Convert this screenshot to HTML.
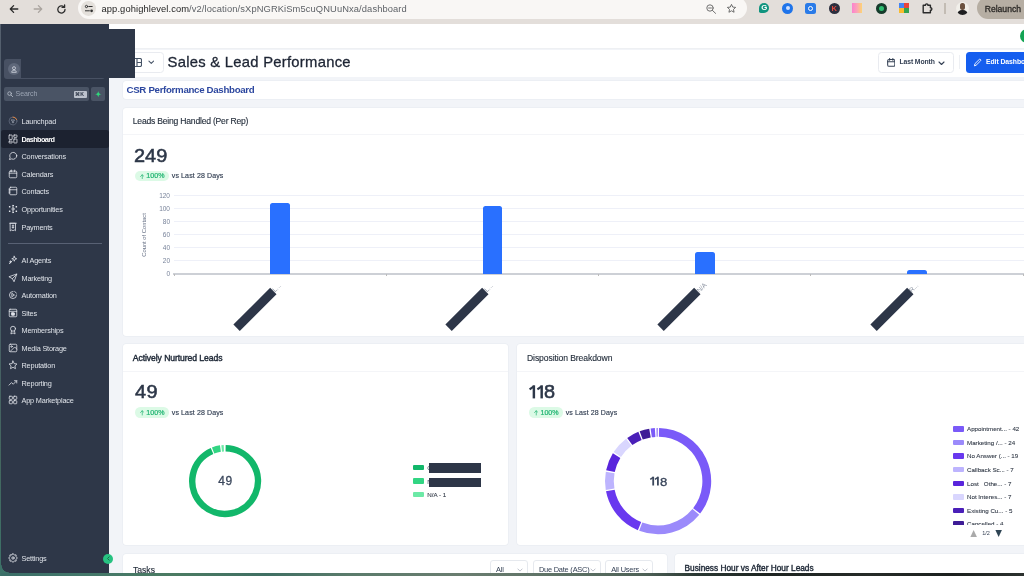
<!DOCTYPE html>
<html>
<head>
<meta charset="utf-8">
<title>Dashboard</title>
<style>
*{box-sizing:border-box;margin:0;padding:0}
html,body{width:1024px;height:576px;overflow:hidden}
body{position:relative;background:#f2f4f8;font-family:"Liberation Sans",sans-serif;color:#2d3748}
.abs{position:absolute}
.t{position:absolute;white-space:nowrap;line-height:1}
/* browser chrome */
#chrome{left:0;top:0;width:1024px;height:23.8px;background:#e3deda}
#pill{left:77.9px;top:-2.6px;width:669.4px;height:22px;border-radius:11px;background:#f9f7f5}
#sitebtn{left:81.3px;top:.95px;width:14.8px;height:14.8px;border-radius:50%;background:#e4e0db}
/* sidebar */
#side{left:0;top:23.8px;width:109px;height:549.2px;background:#2e3748}
.nav{position:absolute;left:21.5px;white-space:nowrap;line-height:1;font-size:7.3px;color:#dfe3e9;letter-spacing:-.17px}
.ico{position:absolute;left:7.6px;width:10px;height:10px;margin-top:.5px}
.ico svg{width:10px;height:10px;display:block;fill:none;stroke:#e3e6ec;stroke-width:1.9;stroke-linecap:round;stroke-linejoin:round}
/* main */
.card{position:absolute;background:#fff;border-radius:3px;box-shadow:0 0 0 .5px #e6e9ef}
.hsep{position:absolute;left:0;right:0;height:1px;background:#f4f5f8}
.ct{position:absolute;white-space:nowrap;line-height:1;font-size:8.6px;color:#1f2937;letter-spacing:-.22px;-webkit-text-stroke:.12px #1f2937}
.big{position:absolute;white-space:nowrap;line-height:1;font-size:18.5px;letter-spacing:.5px;color:#2d3748;-webkit-text-stroke:.55px #2d3748;transform:scaleX(1.075);transform-origin:0 0}
.badge{position:absolute;height:10.4px;border-radius:5.2px;background:#dcfae6;color:#22b573;font-size:7.1px;font-weight:normal;-webkit-text-stroke:.22px #22b573;line-height:10.4px;display:flex;align-items:center;justify-content:center;white-space:nowrap;padding-top:.7px}
.vs{position:absolute;white-space:nowrap;line-height:1;font-size:7px;color:#344054;letter-spacing:.12px;-webkit-text-stroke:.15px #344054}
.grid{position:absolute;left:174px;right:0;height:1px;background:#eef0f8}
.yl{position:absolute;width:20px;text-align:right;font-size:6.5px;line-height:1;color:#78839a;left:150px}
.bar{position:absolute;width:19.8px;background:#2970ff;border-radius:2.5px 2.5px 0 0}
.red{position:absolute;width:51.7px;height:9px;background:#2d3648;transform:rotate(-45deg)}
.tick{position:absolute;width:1px;height:2px;top:274px;background:#bbb}
.lg{position:absolute;width:11.1px;height:5.5px;border-radius:1px}
.lt{position:absolute;white-space:nowrap;line-height:1;font-size:6.2px;color:#333b48;-webkit-text-stroke:.1px #333b48}
</style>
</head>
<body>
<div id="wrap" style="position:absolute;left:0;top:0;width:1024px;height:576px;overflow:hidden;will-change:transform">

<!-- page bg (window) -->
<div class="abs" id="win" style="left:0;top:24px;width:1024px;height:549px;background:#f2f4f8"></div>

<!-- top white bar -->
<div class="abs" style="left:109px;top:24px;width:915px;height:24.5px;background:#fff"></div>
<div class="abs" style="left:109px;top:48px;width:915px;height:1.300px;background:#eef0f3"></div>
<div class="abs" style="left:109px;top:49.5px;width:915px;height:27px;background:#fff"></div>
<div class="abs" style="left:1020.200px;top:29.200px;width:14px;height:14px;border-radius:50%;background:#13a454"></div>

<!-- main content -->
<div class="abs" style="left:120px;top:52.100px;width:43.750px;height:20.500px;border:1px solid #e9ebf0;border-radius:3.500px;background:#fff"></div>
<svg class="abs" style="left:132px;top:57.900px" width="10" height="9" viewBox="0 0 10 9" fill="none" stroke="#475467" stroke-width="1.150"><rect x=".5" y=".5" width="9" height="8" rx="1.500"/><path d="M5 .5v8M5 4.500h4.500"/></svg>
<svg class="abs" style="left:147.500px;top:60px" width="6.500" height="5" viewBox="0 0 7 5" fill="none" stroke="#475467" stroke-width="1.100" stroke-linecap="round" stroke-linejoin="round"><path d="M1 1l2.500 2.500L6 1"/></svg>
<div class="t" id="title" style="left:167.500px;top:55px;font-size:14.8px;color:#1d2433;letter-spacing:.27px;-webkit-text-stroke:.3px #1d2433">Sales &amp; Lead Performance</div>
<div class="abs" style="left:878px;top:52.100px;width:75.500px;height:20.500px;border:1px solid #e9ebf0;border-radius:3.500px;background:#fff"></div>
<svg class="abs" style="left:886.500px;top:57.500px" width="8.500" height="9" viewBox="0 0 9 9.500" fill="none" stroke="#344054" stroke-width="1.100" stroke-linecap="round"><rect x=".7" y="1.500" width="7.600" height="7.300" rx="1.500"/><path d="M.7 4h7.600M2.800 .5v1.800M6.200 .5v1.800"/></svg>
<div class="t" id="lm" style="left:899.500px;top:59.400px;font-size:6.8px;font-weight:bold;color:#344054;letter-spacing:-.1px">Last Month</div>
<svg class="abs" style="left:937.500px;top:60.500px" width="7" height="5" viewBox="0 0 7 5" fill="none" stroke="#344054" stroke-width="1.100" stroke-linecap="round" stroke-linejoin="round"><path d="M1 1l2.500 2.500L6 1"/></svg>
<div class="abs" style="left:959px;top:55px;width:1px;height:14px;background:#eef0f4"></div>
<div class="abs" style="left:965.500px;top:52.100px;width:70px;height:20.500px;border-radius:3.500px;background:#155eef"></div>
<svg class="abs" style="left:972.500px;top:58px" width="9" height="9" viewBox="0 0 24 24" fill="none" stroke="#fff" stroke-width="2.400" stroke-linecap="round" stroke-linejoin="round"><path d="M4 20l1.200-4.800L16.500 4a2.500 2.500 0 0 1 3.600 3.600L8.800 18.800z"/></svg>
<div class="t" style="left:986px;top:59.400px;font-size:6.8px;font-weight:bold;color:#fff;letter-spacing:-.05px">Edit Dashboard</div>
<div class="card" style="left:123px;top:81.300px;width:920px;height:18px"></div>
<div class="t" id="csr" style="left:126.500px;top:84.700px;font-size:9.700px;font-weight:bold;color:#2c479f;letter-spacing:-.31px">CSR Performance Dashboard</div>
<div class="card" style="left:123px;top:107.500px;width:920px;height:228px"><div class="hsep" style="top:26.700px"></div></div>
<div class="ct" id="c1" style="left:132.800px;top:117px">Leads Being Handled (Per Rep)</div>
<div class="big" id="b1" style="left:134.300px;top:146.500px;letter-spacing:.05px">249</div>
<div class="badge" style="left:135px;top:170.800px;width:34.200px"><svg width="4.500" height="5.500" viewBox="0 0 9 11" fill="none" stroke="#22b573" stroke-width="1.400" stroke-linecap="round" stroke-linejoin="round" style="margin-right:2.200px"><path d="M4.500 10V1.500M1 5l3.500-3.500L8 5"/></svg>100%</div>
<div class="vs" id="v1" style="left:171.800px;top:172.100px">vs Last 28 Days</div>
<div class="yl" style="top:271.10px">0</div>
<div class="grid" style="top:259.87px"></div><div class="yl" style="top:258.07px">20</div>
<div class="grid" style="top:246.84px"></div><div class="yl" style="top:245.04px">40</div>
<div class="grid" style="top:233.81px"></div><div class="yl" style="top:232.01px">60</div>
<div class="grid" style="top:220.78px"></div><div class="yl" style="top:218.98px">80</div>
<div class="grid" style="top:207.75px"></div><div class="yl" style="top:205.95px">100</div>
<div class="grid" style="top:194.72px"></div><div class="yl" style="top:192.92px">120</div>
<div class="abs" style="left:173px;top:273.400px;width:860px;height:1.600px;background:#cdd0d6"></div>
<div class="tick" style="left:173.5px"></div><div class="tick" style="left:385.8px"></div><div class="tick" style="left:598.1px"></div><div class="tick" style="left:810.4px"></div><div class="tick" style="left:1022.7px"></div>
<div class="t" style="left:144.500px;top:234.500px;font-size:5.800px;color:#667085;transform:translate(-50%,-50%) rotate(-90deg)">Count of Contact</div>
<div class="bar" style="left:270.30px;top:203.04px;height:70.66px"></div><div class="red" style="left:228.85px;top:305.00px"></div>
<div class="bar" style="left:482.60px;top:206.10px;height:67.60px"></div><div class="red" style="left:441.15px;top:305.00px"></div>
<div class="bar" style="left:694.90px;top:252.29px;height:21.41px"></div><div class="red" style="left:653.45px;top:305.00px"></div>
<div class="bar" style="left:907.30px;top:270.14px;height:3.56px"></div><div class="red" style="left:865.85px;top:305.00px"></div>
<div class="t" style="left:277.1px;top:288.400px;font-size:6.500px;color:#8a92a0;transform:translate(-50%,-50%) rotate(-45deg)">L...</div><div class="t" style="left:489.4px;top:288.400px;font-size:6.500px;color:#8a92a0;transform:translate(-50%,-50%) rotate(-45deg)">L...</div><div class="t" style="left:701.7px;top:288.400px;font-size:6.500px;color:#8a92a0;transform:translate(-50%,-50%) rotate(-45deg)">N/A</div><div class="t" style="left:914.1px;top:288.400px;font-size:6.500px;color:#8a92a0;transform:translate(-50%,-50%) rotate(-45deg)">R...</div>

<div class="card" style="left:123.200px;top:343.800px;width:385.200px;height:201.400px"><div class="hsep" style="top:27.500px"></div></div>
<div class="ct" id="c2" style="left:132.800px;top:353.800px;-webkit-text-stroke:.42px #1f2937;letter-spacing:-.07px">Actively Nurtured Leads</div>
<div class="big" id="b2" style="left:134.800px;top:382.500px">49</div>
<div class="badge" style="left:135px;top:407.300px;width:34.200px"><svg width="4.500" height="5.500" viewBox="0 0 9 11" fill="none" stroke="#22b573" stroke-width="1.400" stroke-linecap="round" stroke-linejoin="round" style="margin-right:2.200px"><path d="M4.500 10V1.500M1 5l3.500-3.500L8 5"/></svg>100%</div>
<div class="vs" style="left:171.800px;top:408.900px">vs Last 28 Days</div>
<svg class="abs" style="left:187.30px;top:442.70px" width="76.20" height="76.20" viewBox="-38.10 -38.10 76.20 76.20" fill="none"><path d="M0.52 -32.85A32.85 32.85 0 1 1 -13.05 -30.15" stroke="#12b76a" stroke-width="6.50"/><path d="M-11.99 -30.59A32.85 32.85 0 0 1 -4.69 -32.51" stroke="#32d583" stroke-width="6.50"/><path d="M-3.43 -32.67A32.85 32.85 0 0 1 -1.26 -32.83" stroke="#6ce9a6" stroke-width="6.50"/></svg>
<div class="t" style="left:225.400px;top:480.800px;font-size:12px;color:#3b475c;-webkit-text-stroke:.3px #3b475c;letter-spacing:.5px;transform:translate(-50%,-50%)">49</div>
<div class="lg" style="left:413px;top:464.75px;background:#12b76a;width:11px;height:5.500px"></div><div class="lg" style="left:413px;top:478.45px;background:#32d583;width:11px;height:5.500px"></div><div class="lg" style="left:413px;top:491.75px;background:#6ce9a6;width:11px;height:5.500px"></div><div class="t" style="left:427.300px;top:464.800px;font-size:6px;color:#344054">C</div><div class="t" style="left:427.300px;top:478.500px;font-size:6px;color:#344054">N</div>
<div class="abs" style="left:429px;top:463px;width:52px;height:9.700px;background:#2d3648"></div>
<div class="abs" style="left:429px;top:477.500px;width:52px;height:9.500px;background:#2d3648"></div>
<div class="lt" style="left:427.300px;top:491.700px">N/A - 1</div>
<div class="card" style="left:517px;top:343.800px;width:520px;height:201.200px"><div class="hsep" style="top:27.500px"></div></div>
<div class="ct" id="c3" style="left:527px;top:353.800px;letter-spacing:-.1px">Disposition Breakdown</div>
<svg class="abs" style="left:0;top:0" width="1024" height="576" viewBox="0 0 1024 576" id="ones"><rect x="532.65" y="385.3" width="2.45" height="13.1" fill="#2d3748"/><path d="M529.60 389.45L533.85 386.35" stroke="#2d3748" stroke-width="2.1" fill="none"/><rect x="540.45" y="385.3" width="2.45" height="13.1" fill="#2d3748"/><path d="M537.40 389.45L541.65 386.35" stroke="#2d3748" stroke-width="2.1" fill="none"/></svg><div class="big" id="b3" style="left:543.900px;top:382.500px">8</div>
<div class="badge" style="left:529.100px;top:407.300px;width:34.200px"><svg width="4.500" height="5.500" viewBox="0 0 9 11" fill="none" stroke="#22b573" stroke-width="1.400" stroke-linecap="round" stroke-linejoin="round" style="margin-right:2.200px"><path d="M4.500 10V1.500M1 5l3.500-3.500L8 5"/></svg>100%</div>
<div class="vs" style="left:565.700px;top:408.900px">vs Last 28 Days</div>
<svg class="abs" style="left:603.40px;top:425.60px" width="110.20" height="110.20" viewBox="-55.10 -55.10 110.20 110.20" fill="none"><path d="M0.89 -48.69A48.70 48.70 0 0 1 38.54 29.77" stroke="#7a5af8" stroke-width="8.80"/><path d="M37.75 30.77A48.70 48.70 0 0 1 -17.38 45.49" stroke="#9b8afb" stroke-width="8.80"/><path d="M-18.56 45.02A48.70 48.70 0 0 1 -47.78 9.40" stroke="#6938ef" stroke-width="8.80"/><path d="M-48.01 8.15A48.70 48.70 0 0 1 -47.93 -8.65" stroke="#bdb4fe" stroke-width="8.80"/><path d="M-47.68 -9.90A48.70 48.70 0 0 1 -41.49 -25.51" stroke="#5925dc" stroke-width="8.80"/><path d="M-40.80 -26.58A48.70 48.70 0 0 1 -29.35 -38.86" stroke="#d9d6fe" stroke-width="8.80"/><path d="M-28.32 -39.62A48.70 48.70 0 0 1 -18.09 -45.22" stroke="#4a1fb8" stroke-width="8.80"/><path d="M-16.90 -45.67A48.70 48.70 0 0 1 -8.12 -48.02" stroke="#3e1c96" stroke-width="8.80"/><path d="M-6.86 -48.21A48.70 48.70 0 0 1 -2.97 -48.61" stroke="#7a5af8" stroke-width="8.80"/><path d="M-1.96 -48.66A48.70 48.70 0 0 1 -1.42 -48.68" stroke="#9b8afb" stroke-width="8.80"/><path d="M-0.66 -48.70A48.70 48.70 0 0 1 -0.13 -48.70" stroke="#6938ef" stroke-width="8.80"/></svg>
<svg class="abs" style="left:0;top:0" width="1024" height="576" viewBox="0 0 1024 576"><rect x="652.30" y="476.7" width="1.8" height="8.8" fill="#3b475c"/><path d="M650.25 479.35L653.20 477.4" stroke="#3b475c" stroke-width="1.5" fill="none"/><rect x="657.00" y="476.7" width="1.8" height="8.8" fill="#3b475c"/><path d="M654.95 479.35L657.90 477.4" stroke="#3b475c" stroke-width="1.5" fill="none"/></svg><div class="t" id="d8" style="left:659.700px;top:475.800px;font-size:11.700px;color:#3b475c;-webkit-text-stroke:.3px #3b475c;transform:scaleX(1.13);transform-origin:0 0">8</div>
<div class="abs" style="left:948px;top:422px;width:76px;height:103.100px;overflow:hidden">
<div class="lg" style="left:4.800px;top:4.30px;background:#7a5af8"></div><div class="lt" style="left:19px;top:4.30px;white-space:pre">Appointment... - 42</div>
<div class="lg" style="left:4.800px;top:17.85px;background:#9b8afb"></div><div class="lt" style="left:19px;top:17.85px;white-space:pre">Marketing /... - 24</div>
<div class="lg" style="left:4.800px;top:31.40px;background:#6938ef"></div><div class="lt" style="left:19px;top:31.40px;white-space:pre">No Answer (... - 19</div>
<div class="lg" style="left:4.800px;top:44.95px;background:#bdb4fe"></div><div class="lt" style="left:19px;top:44.95px;white-space:pre">Callback Sc... - 7</div>
<div class="lg" style="left:4.800px;top:58.50px;background:#5925dc"></div><div class="lt" style="left:19px;top:58.50px;white-space:pre">Lost   Othe... - 7</div>
<div class="lg" style="left:4.800px;top:72.05px;background:#d9d6fe"></div><div class="lt" style="left:19px;top:72.05px;white-space:pre">Not Interes... - 7</div>
<div class="lg" style="left:4.800px;top:85.60px;background:#4a1fb8"></div><div class="lt" style="left:19px;top:85.60px;white-space:pre">Existing Cu... - 5</div>
<div class="lg" style="left:4.800px;top:99.15px;background:#3e1c96"></div><div class="lt" style="left:19px;top:99.15px;white-space:pre">Cancelled - 4</div>
</div>
<svg class="abs" style="left:969.700px;top:530px" width="7.300" height="7" viewBox="0 0 7 7.500"><path d="M3.500 0L7 7.500H0z" fill="#aaa"/></svg><div class="t" style="left:986px;top:533.500px;font-size:5.500px;color:#344054;transform:translate(-50%,-50%)">1/2</div><svg class="abs" style="left:995.100px;top:530px" width="7.300" height="7" viewBox="0 0 7 7.500"><path d="M0 0H7L3.500 7.500z" fill="#2f4554"/></svg>
<div class="card" style="left:123.200px;top:554px;width:543.800px;height:30px"></div>
<div class="t" style="left:133px;top:565.900px;font-size:8.600px;color:#1f2937;-webkit-text-stroke:.15px #1f2937">Tasks</div>
<div class="abs" style="left:490.2px;top:560px;width:38.2px;height:20px;border:1px solid #e6e9ee;border-radius:3px;background:#fff"></div><div class="t" style="left:496.0px;top:566.200px;font-size:7.400px;letter-spacing:-.2px;color:#344054">All</div><svg class="abs" style="left:517.4px;top:568.200px" width="6" height="4.500" viewBox="0 0 7 5" fill="none" stroke="#aab0bb" stroke-width=".9" stroke-linecap="round" stroke-linejoin="round"><path d="M1 1l2.500 2.500L6 1"/></svg>
<div class="abs" style="left:533.1px;top:560px;width:68.4px;height:20px;border:1px solid #e6e9ee;border-radius:3px;background:#fff"></div><div class="t" style="left:538.9px;top:566.200px;font-size:7.400px;letter-spacing:-.2px;color:#344054">Due Date (ASC)</div><svg class="abs" style="left:589.9px;top:568.200px" width="6" height="4.500" viewBox="0 0 7 5" fill="none" stroke="#aab0bb" stroke-width=".9" stroke-linecap="round" stroke-linejoin="round"><path d="M1 1l2.500 2.500L6 1"/></svg>
<div class="abs" style="left:605.4px;top:560px;width:47.5px;height:20px;border:1px solid #e6e9ee;border-radius:3px;background:#fff"></div><div class="t" style="left:611.2px;top:566.200px;font-size:7.400px;letter-spacing:-.2px;color:#344054">All Users</div><svg class="abs" style="left:641.6px;top:568.200px" width="6" height="4.500" viewBox="0 0 7 5" fill="none" stroke="#aab0bb" stroke-width=".9" stroke-linecap="round" stroke-linejoin="round"><path d="M1 1l2.500 2.500L6 1"/></svg>
<div class="card" style="left:675px;top:554px;width:360px;height:30px"></div>
<div class="t" style="left:684.500px;top:563.500px;font-size:8.300px;color:#1f2937;-webkit-text-stroke:.4px #1f2937">Business Hour vs After Hour Leads</div>

<!-- browser chrome -->
<div class="abs" id="chrome"></div>
<div class="abs" id="pill"></div>
<div class="abs" id="sitebtn"></div>


<!-- chrome nav icons -->
<svg class="abs" style="left:9px;top:4px" width="10" height="10" viewBox="0 0 10 10" fill="none" stroke="#2b2b2b" stroke-width="1.3" stroke-linecap="round" stroke-linejoin="round"><path d="M8.8 5H1.5M4.6 1.6L1.3 5l3.3 3.4"/></svg>
<svg class="abs" style="left:33px;top:4px" width="10" height="10" viewBox="0 0 10 10" fill="none" stroke="#aaa49f" stroke-width="1.3" stroke-linecap="round" stroke-linejoin="round"><path d="M1.2 5h7.3M5.4 1.6L8.7 5 5.4 8.4"/></svg>
<svg class="abs" style="left:56px;top:3.5px" width="11" height="11" viewBox="0 0 11 11" fill="none" stroke="#2b2b2b" stroke-width="1.3" stroke-linecap="round" stroke-linejoin="round"><path d="M9 5.5A3.6 3.6 0 1 1 7.9 2.9"/><path d="M8.6 0.9v2.5H6.1" /></svg>
<!-- tune icon -->
<svg class="abs" style="left:84px;top:4px" width="10" height="10" viewBox="0 0 10 10" fill="none" stroke="#333" stroke-width="1" stroke-linecap="round"><circle cx="2.500" cy="2.500" r="1.150"/><path d="M4.800 2.500H8.200"/><circle cx="7.600" cy="6.800" r="1.350" fill="#333" stroke="none"/><path d="M1.400 6.800H5.400"/></svg>
<div class="t" id="url" style="left:101.5px;top:4.700px;font-size:9.35px;color:#1f1f1f;letter-spacing:.1px">app.gohighlevel.com<span style="color:#5f6368">/v2/location/sXpNGRKiSm5cuQNUuNxa/dashboard</span></div>
<!-- zoom + star -->
<svg class="abs" style="left:705.500px;top:3.800px" width="10.500" height="10.500" viewBox="0 0 10.500 10.500" fill="none" stroke="#6a6a6a" stroke-width=".95" stroke-linecap="round"><circle cx="4" cy="4" r="3.200"/><path d="M6.400 6.400L9.600 9.400M2.600 4h2.800"/></svg>
<svg class="abs" style="left:725.5px;top:3px" width="11" height="11" viewBox="0 0 24 24" fill="none" stroke="#5a5a5a" stroke-width="1.900" stroke-linejoin="round"><path d="M12 3l2.7 5.9 6.3.7-4.7 4.3 1.3 6.3L12 17l-5.6 3.2 1.3-6.3L3 9.6l6.3-.7z"/></svg>
<!-- extension icons -->
<div class="abs" style="left:759px;top:2.70px;width:10.300px;height:10.300px;border-radius:50% 50% 50% 18%;background:#10947f"></div>
<div class="t" style="left:761.200px;top:4.20px;font-size:7.800px;font-weight:bold;color:#fff">G</div>
<div class="abs" style="left:782px;top:2.70px;width:11px;height:11px;border-radius:50%;background:#1f74ea"></div>
<div class="abs" style="left:785.5px;top:6.20px;width:4px;height:4px;border-radius:50%;background:#cfe0ff"></div>
<div class="abs" style="left:805px;top:2.70px;width:11px;height:11px;border-radius:2.5px;background:#2a7be8"></div>
<div class="abs" style="left:808px;top:5.70px;width:5px;height:5px;border-radius:50%;border:1.3px solid #fff"></div>
<div class="abs" style="left:828.5px;top:2.70px;width:11px;height:11px;border-radius:50%;background:#2c2f3e"></div>
<div class="t" style="left:831.6px;top:4.50px;font-size:7.5px;font-weight:bold;color:#e0493e">K</div>
<div class="abs" style="left:852px;top:3.20px;width:10px;height:10px;background:linear-gradient(90deg,#fb82cf,#fca3b8 50%,#fdd574)"></div>
<div class="abs" style="left:875.5px;top:2.70px;width:11px;height:11px;border-radius:50%;background:#173c2c"></div>
<div class="abs" style="left:878.5px;top:5.70px;width:5px;height:5px;border-radius:50%;background:#2fbf71"></div>
<div class="abs" style="left:899px;top:3.20px;width:5px;height:5px;background:#4385f5"></div>
<div class="abs" style="left:904px;top:3.20px;width:5px;height:5px;background:#e8453c"></div>
<div class="abs" style="left:899px;top:8.20px;width:5px;height:5px;background:#f9bb2d"></div>
<div class="abs" style="left:904px;top:8.20px;width:5px;height:5px;background:#32a350"></div>
<svg class="abs" style="left:922px;top:2.20px" width="11" height="12" viewBox="0 0 11 12" fill="none" stroke="#2b2b2b" stroke-width="1.400" stroke-linejoin="round"><path d="M1.2 3.3h2.3c-.3-1.9 2.7-1.9 2.4 0h2.5v2.5c1.9-.3 1.9 2.7 0 2.4v2.6H1.2z"/></svg>
<div class="abs" style="left:944.400px;top:3.200px;width:1.400px;height:10.500px;background:#c3bcb4"></div>
<div class="abs" style="left:955.900px;top:2.200px;width:13px;height:13px;border-radius:50%;background:#f1efea;overflow:hidden"><div class="abs" style="left:4px;top:1.300px;width:5px;height:6.200px;border-radius:45%;background:#6b5140"></div><div class="abs" style="left:1.300px;top:7.400px;width:10.400px;height:7px;border-radius:5px 5px 0 0;background:#1d1d1f"></div></div>
<div class="abs" style="left:977px;top:-2.600px;width:60px;height:22px;border-radius:11px;background:#b6aea3"></div>
<div class="t" id="rl" style="left:984.700px;top:4.500px;font-size:8.600px;color:#2b2926;-webkit-text-stroke:.3px #2b2926">Relaunch</div>

<!-- sidebar -->
<div class="abs" id="side"></div>
<div class="abs" style="left:3.75px;top:59.200px;width:101px;height:20.200px;border-radius:3px;background:#485163"></div>
<div class="abs" style="left:7.5px;top:63px;width:12px;height:12px;border-radius:50%;background:#5f687a"></div>
<svg class="abs" style="left:10.5px;top:66px" width="6" height="7" viewBox="0 0 6 7" fill="none" stroke="#c9ced8" stroke-width=".9"><circle cx="3" cy="2.200" r="1.500"/><path d="M.7 6.300c0-2.800 4.600-2.800 4.600 0z"/></svg>
<div class="abs" style="left:20.5px;top:28.5px;width:114.5px;height:49.2px;background:#2e3748"></div>
<div class="abs" style="left:3.75px;top:87px;width:85px;height:14px;border-radius:2px;background:#4a5465"></div>
<svg class="abs" style="left:6.500px;top:91px" width="6.500" height="6.500" viewBox="0 0 10 10" fill="none" stroke="#b4bbc7" stroke-width="1.300" stroke-linecap="round"><circle cx="4" cy="4" r="2.800"/><path d="M6.300 6.300L9 9"/></svg>
<div class="t" style="left:15.5px;top:90.900px;font-size:7.1px;letter-spacing:-.1px;color:#9aa3b2">Search</div>
<div class="abs" style="left:73.750px;top:90.5px;width:13.300px;height:7px;border-radius:1px;background:#bcc2cd"></div>
<div class="t" style="left:75px;top:91.600px;font-size:5.2px;font-weight:bold;color:#2e3748;letter-spacing:.2px">⌘K</div>
<div class="abs" style="left:91.250px;top:87px;width:13.750px;height:14px;border-radius:2px;background:#4a5465"></div>
<svg class="abs" style="left:95px;top:90.800px" width="6.500" height="6.500" viewBox="0 0 10 10"><path d="M5 0C5.400 3.200 6.800 4.600 10 5 6.800 5.400 5.400 6.800 5 10 4.600 6.800 3.200 5.400 0 5 3.200 4.600 4.600 3.200 5 0z" fill="#2fd67b"/></svg>
<div class="abs" style="left:1.200px;top:130px;width:107.550px;height:17.5px;border-radius:2.500px;background:#1c2230"></div>
<div class="abs" style="left:8px;top:243px;width:93.5px;height:1px;background:#586174"></div>
<div class="ico" style="top:115.75px"><svg viewBox="0 0 24 24"><circle cx="12" cy="12" r="9.5" stroke="#6b7486" stroke-width="1.6"/><path d="M12 2.5a9.5 9.5 0 0 1 8.8 6" stroke="#f08a3c" stroke-width="2"/><path d="M8.5 9.5h7l-2 3.5v3h-3v-3z" stroke="#b8bfcc" stroke-width="1.4"/></svg></div><div class="nav" style="top:118.28px">Launchpad</div>
<div class="ico" style="top:133.30px"><svg viewBox="0 0 24 24"><rect x="2.500" y="2.500" width="7.500" height="10.500" rx=".8"/><rect x="14" y="2.500" width="7.500" height="5.500" rx=".8"/><rect x="2.500" y="17" width="7.500" height="4.500" rx=".8"/><rect x="14" y="12" width="7.500" height="9.500" rx=".8"/></svg></div><div class="nav" style="top:135.83px;font-weight:bold;color:#fff;letter-spacing:-.58px">Dashboard</div>
<div class="ico" style="top:150.80px"><svg viewBox="0 0 24 24"><path d="M21 11.5a8.4 8.4 0 0 1-12.3 7.4L3.5 20.5l1.6-5A8.4 8.4 0 1 1 21 11.5z"/></svg></div><div class="nav" style="top:153.33px">Conversations</div>
<div class="ico" style="top:168.40px"><svg viewBox="0 0 24 24"><rect x="3" y="5" width="18" height="16" rx="2.5"/><path d="M3 10h18M8 2.5v4M16 2.5v4"/></svg></div><div class="nav" style="top:170.93px">Calendars</div>
<div class="ico" style="top:185.90px"><svg viewBox="0 0 24 24"><rect x="4" y="3" width="17" height="18" rx="2.5"/><path d="M4 9h17M2 7.5h3M2 12h3M2 16.500h3"/></svg></div><div class="nav" style="top:188.43px">Contacts</div>
<div class="ico" style="top:203.50px"><svg viewBox="0 0 24 24"><circle cx="12" cy="12" r="2.600"/><circle cx="12" cy="4" r="1.300"/><circle cx="12" cy="20" r="1.300"/><path d="M12 6.500v2.500M12 15v2.500"/><g fill="#e3e6ec" stroke="none"><rect x="2.200" y="4.800" width="3.600" height="3.600" rx=".8"/><rect x="2.200" y="15.600" width="3.600" height="3.600" rx=".8"/><rect x="18.200" y="4.800" width="3.600" height="3.600" rx=".8"/><rect x="18.200" y="15.600" width="3.600" height="3.600" rx=".8"/></g></svg></div><div class="nav" style="top:206.03px">Opportunities</div>
<div class="ico" style="top:221.00px"><svg viewBox="0 0 24 24"><path d="M6 3h12v18l-3-2-3 2-3-2-3 2z"/><path d="M4 3h16M10 9h4M10 13h4M12 7v8"/></svg></div><div class="nav" style="top:223.53px">Payments</div>
<div class="ico" style="top:254.50px"><svg viewBox="0 0 24 24"><path d="M15 3l1.600 4.400L21 9l-4.400 1.600L15 15l-1.600-4.400L9 9l4.400-1.600z"/><path d="M6 14v5M3.500 16.500h5M3 21l7-7"/></svg></div><div class="nav" style="top:257.03px">AI Agents</div>
<div class="ico" style="top:272.00px"><svg viewBox="0 0 24 24"><path d="M21 3L10.500 13.500M21 3l-6.500 18-4-7.500L3 9.500z"/></svg></div><div class="nav" style="top:274.53px">Marketing</div>
<div class="ico" style="top:289.50px"><svg viewBox="0 0 24 24"><path d="M20.500 12A8.500 8.500 0 1 1 12 3.500"/><path d="M10 8.500l5.500 3.500-5.500 3.500z"/><path d="M16 3.500a9 9 0 0 1 4 4" /></svg></div><div class="nav" style="top:292.03px">Automation</div>
<div class="ico" style="top:307.10px"><svg viewBox="0 0 24 24"><rect x="3" y="3" width="18" height="18" rx="2"/><path d="M3 8h18"/><rect x="8.500" y="11.500" width="7" height="6" rx="1" fill="#dfe3ea"/></svg></div><div class="nav" style="top:309.63px">Sites</div>
<div class="ico" style="top:324.60px"><svg viewBox="0 0 24 24"><circle cx="12" cy="9" r="6"/><path d="M8.500 14l-1.500 7.500 5-2.500 5 2.500-1.500-7.500"/></svg></div><div class="nav" style="top:327.13px">Memberships</div>
<div class="ico" style="top:342.20px"><svg viewBox="0 0 24 24"><rect x="3" y="3" width="18" height="18" rx="2.500"/><circle cx="8.500" cy="8.500" r="1.800"/><path d="M21 14.500l-5-5L5 20.500"/></svg></div><div class="nav" style="top:344.73px">Media Storage</div>
<div class="ico" style="top:359.70px"><svg viewBox="0 0 24 24"><path d="M12 2.500l2.900 6.200 6.600.8-4.900 4.600 1.300 6.700L12 17.500l-5.900 3.300 1.300-6.700L2.500 9.500l6.600-.8z"/></svg></div><div class="nav" style="top:362.23px">Reputation</div>
<div class="ico" style="top:377.30px"><svg viewBox="0 0 24 24"><path d="M2.500 17l6-6 4 4 8.500-8.500M15.500 6.500H21V12"/></svg></div><div class="nav" style="top:379.83px">Reporting</div>
<div class="ico" style="top:394.80px"><svg viewBox="0 0 24 24"><rect x="3" y="3" width="7.500" height="7.500" rx="1.500"/><rect x="13.500" y="3" width="7.500" height="7.500" rx="1.500"/><rect x="3" y="13.500" width="7.500" height="7.500" rx="1.500"/><rect x="13.500" y="13.500" width="7.500" height="7.500" rx="1.500"/></svg></div><div class="nav" style="top:397.33px">App Marketplace</div>
<div class="ico" style="top:552.50px"><svg viewBox="1 1 22 22"><circle cx="12" cy="12" r="2.600"/><path d="M12.00 2.40L14.83 5.16L18.79 5.21L18.84 9.17L21.60 12.00L18.84 14.83L18.79 18.79L14.83 18.84L12.00 21.60L9.17 18.84L5.21 18.79L5.16 14.83L2.40 12.00L5.16 9.17L5.21 5.21L9.17 5.16z" stroke-linejoin="round"/></svg></div><div class="nav" style="top:555.23px">Settings</div>
<div class="abs" style="left:103px;top:553.800px;width:10px;height:10px;border-radius:50%;background:#27c281"></div>
<svg class="abs" style="left:105.5px;top:556.300px" width="5" height="5" viewBox="0 0 5 5" fill="none" stroke="#1f6d4f" stroke-width="1" stroke-linecap="round" stroke-linejoin="round"><path d="M3.200.8L1.500 2.500l1.700 1.700"/></svg>

<!-- desktop strip (on top) -->
<div class="abs" style="left:0;top:572.900px;width:1024px;height:4px;background:linear-gradient(90deg,#3a6e68 0,#43776a 8%,#4b7b62 17%,#3f6f63 26%,#5a7b6b 34%,#6a7d70 45%,#5d7165 55%,#4e6157 63%,#2a3833 68%,#1d2421 75%,#262b28 85%,#1b201e 93%,#2c322f 100%)"></div>
<div class="abs" style="left:1.100px;top:565.200px;width:7.500px;height:7.500px;background:radial-gradient(circle at 100% 0,rgba(0,0,0,0) 7.100px,#3c7268 7.700px)"></div>
<div class="abs" style="left:0;top:23.800px;width:1.100px;height:552.200px;background:linear-gradient(180deg,#55606e 0,#4a5968 40%,#43675f 80%,#3c7268 100%)"></div>
</div>
</body>
</html>
